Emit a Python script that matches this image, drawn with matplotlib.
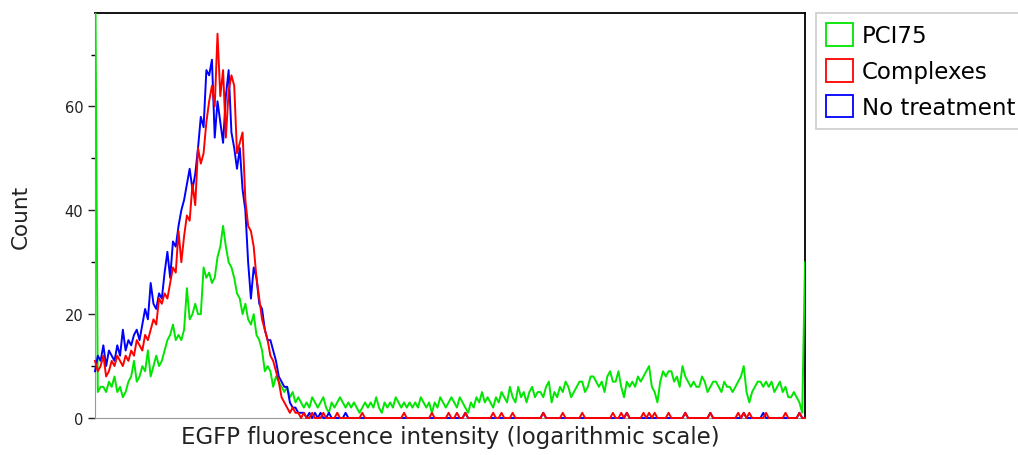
import numpy as np
import matplotlib.pyplot as plt
from matplotlib.patches import Patch

# histogram channels (256 bins, log-scaled fluorescence)
pci75 = [95, 5, 6, 6, 5, 7, 6, 8, 5, 6,
         4, 5, 7, 8, 11, 7, 8, 10, 9, 13,
         8, 10, 12, 10, 11, 13, 15, 16, 18, 15,
         16, 15, 17, 25, 19, 20, 22, 20, 20, 29,
         27, 28, 26, 27, 31, 33, 37, 33, 30, 29,
         27, 24, 23, 20, 22, 19, 18, 20, 16, 15,
         13, 9, 10, 9, 6, 8, 7, 6, 5, 6,
         4, 5, 3, 4, 3, 2, 3, 2, 4, 3,
         2, 3, 4, 2, 1, 3, 2, 3, 4, 3,
         2, 3, 2, 3, 2, 1, 2, 3, 2, 3,
         2, 4, 2, 1, 3, 2, 3, 2, 4, 3,
         2, 3, 2, 3, 2, 3, 2, 4, 3, 2,
         3, 1, 3, 2, 4, 3, 2, 3, 4, 3,
         2, 4, 3, 2, 1, 3, 2, 4, 3, 5,
         3, 4, 3, 2, 4, 3, 5, 4, 3, 6,
         4, 3, 6, 4, 5, 3, 5, 6, 4, 5,
         5, 4, 6, 7, 3, 5, 4, 6, 5, 7,
         6, 4, 5, 6, 7, 7, 5, 6, 8, 8,
         7, 6, 7, 5, 8, 9, 7, 7, 9, 6,
         4, 7, 6, 7, 6, 8, 7, 8, 9, 10,
         6, 5, 3, 7, 9, 8, 9, 9, 7, 8,
         6, 10, 8, 7, 6, 7, 6, 6, 8, 7,
         5, 6, 7, 7, 6, 5, 7, 6, 6, 5,
         6, 7, 8, 10, 5, 3, 5, 6, 7, 7,
         6, 7, 6, 7, 5, 6, 7, 5, 6, 4,
         4, 5, 4, 3, 1, 30]

complexes = [11, 9, 10, 12, 8, 9, 11, 10, 12, 11,
             10, 12, 11, 13, 12, 15, 14, 13, 16, 15,
             17, 19, 18, 23, 22, 24, 23, 26, 29, 28,
             36, 30, 35, 39, 38, 45, 41, 52, 49, 51,
             57, 61, 64, 60, 74, 62, 67, 54, 63, 66,
             64, 51, 53, 55, 42, 37, 36, 33, 27, 23,
             19, 17, 15, 12, 11, 9, 7, 4, 3, 2,
             1, 2, 1, 1, 0, 1, 0, 0, 1, 0,
             0, 0, 1, 0, 0, 0, 0, 1, 0, 0,
             0, 0, 0, 0, 0, 0, 1, 0, 0, 0,
             0, 0, 0, 0, 0, 0, 0, 0, 0, 0,
             0, 1, 0, 0, 0, 0, 0, 0, 0, 0,
             0, 1, 0, 0, 0, 0, 0, 1, 0, 0,
             1, 0, 0, 1, 0, 0, 0, 0, 0, 0,
             0, 0, 0, 1, 0, 0, 1, 0, 0, 0,
             1, 0, 0, 0, 0, 0, 0, 0, 0, 0,
             0, 1, 0, 0, 0, 0, 0, 0, 1, 0,
             0, 0, 0, 0, 0, 1, 0, 0, 0, 0,
             0, 0, 0, 0, 0, 0, 1, 0, 0, 1,
             0, 1, 0, 0, 0, 0, 0, 1, 0, 1,
             0, 1, 0, 0, 0, 0, 1, 0, 0, 0,
             0, 0, 1, 0, 0, 0, 0, 0, 0, 0,
             0, 1, 0, 0, 0, 0, 0, 0, 0, 0,
             0, 1, 0, 1, 0, 1, 0, 0, 0, 0,
             0, 1, 0, 0, 0, 0, 0, 0, 1, 0,
             0, 0, 0, 1, 0, 0]

no_treatment = [9, 12, 11, 14, 10, 13, 12, 11, 14, 12,
                17, 13, 15, 14, 16, 17, 15, 18, 21, 19,
                26, 22, 21, 24, 23, 28, 32, 27, 34, 33,
                37, 40, 42, 45, 48, 44, 47, 52, 58, 56,
                67, 66, 69, 54, 61, 57, 53, 62, 67, 55,
                52, 48, 52, 44, 40, 30, 23, 29, 27, 22,
                21, 17, 15, 15, 13, 11, 8, 7, 6, 6,
                3, 2, 2, 1, 1, 1, 0, 1, 0, 1,
                0, 1, 0, 0, 1, 0, 0, 0, 0, 0,
                1, 0, 0, 0, 0, 0, 0, 0, 0, 0,
                0, 0, 0, 0, 0, 0, 0, 0, 0, 0,
                0, 0, 0, 0, 0, 0, 0, 0, 0, 0,
                0, 0, 0, 0, 0, 0, 0, 0, 0, 0,
                0, 0, 0, 1, 0, 0, 0, 0, 0, 0,
                0, 0, 0, 0, 0, 0, 0, 0, 0, 0,
                0, 0, 0, 0, 0, 0, 0, 0, 0, 0,
                0, 1, 0, 0, 0, 0, 0, 0, 0, 0,
                0, 0, 0, 0, 0, 0, 0, 0, 0, 0,
                0, 0, 0, 0, 0, 0, 0, 0, 0, 0,
                0, 1, 0, 0, 0, 0, 0, 0, 0, 0,
                0, 0, 0, 0, 0, 0, 0, 0, 0, 0,
                0, 0, 1, 0, 0, 0, 0, 0, 0, 0,
                0, 1, 0, 0, 0, 0, 0, 0, 0, 0,
                0, 0, 0, 1, 0, 0, 0, 0, 0, 0,
                1, 0, 0, 0, 0, 0, 0, 0, 0, 0,
                0, 0, 0, 1, 0, 0]

labels = ['PCI75', 'Complexes', 'No treatment']
colors = ['#00e600', '#ff0000', '#0000ff']

x = np.arange(len(pci75))

fig = plt.figure(figsize=(10.18, 4.56), dpi=100)
ax = fig.add_axes([95/1018, 1 - 419/456, 710/1018, 405/456])

ax.plot(x, pci75, color=colors[0], lw=1.4, zorder=3)
ax.plot(x, no_treatment, color=colors[2], lw=1.4, zorder=4, clip_on=False)
ax.plot(x, complexes, color=colors[1], lw=1.4, zorder=5, clip_on=False)

ax.set_xlim(0, len(x) - 1)
ax.set_ylim(0, 78)
ax.set_xticks([])
ax.set_yticks([0, 20, 40, 60])
ax.set_yticks([10, 30, 50, 70], minor=True)
ax.tick_params(axis='y', which='major', length=5, width=1, labelsize=10.5, colors='#222222')
ax.tick_params(axis='y', which='minor', length=3, width=1)

for s in ['top', 'right']:
    ax.spines[s].set_color('black')
    ax.spines[s].set_linewidth(1.3)
ax.spines['bottom'].set_color('#999999')
ax.spines['left'].set_color('#999999')

ax.set_xlabel('EGFP fluorescence intensity (logarithmic scale)', fontsize=16.5, color='#222222', labelpad=5)
ax.set_ylabel('Count', fontsize=15.5, color='#222222', labelpad=24)

handles = [Patch(facecolor='none', edgecolor=c, lw=1.3) for c in colors]
leg = fig.legend(handles, labels, loc='upper left', bbox_to_anchor=(816/1018, 1 - 14/456),
                 fontsize=16.5, handlelength=1.15, handleheight=1.15, handletextpad=0.4,
                 labelspacing=0.5, borderpad=0.45, borderaxespad=0, fancybox=False,
                 framealpha=1)
leg.get_frame().set_edgecolor('#cccccc')
leg.get_frame().set_linewidth(1.2)

fig.savefig('out.png', dpi=100)
